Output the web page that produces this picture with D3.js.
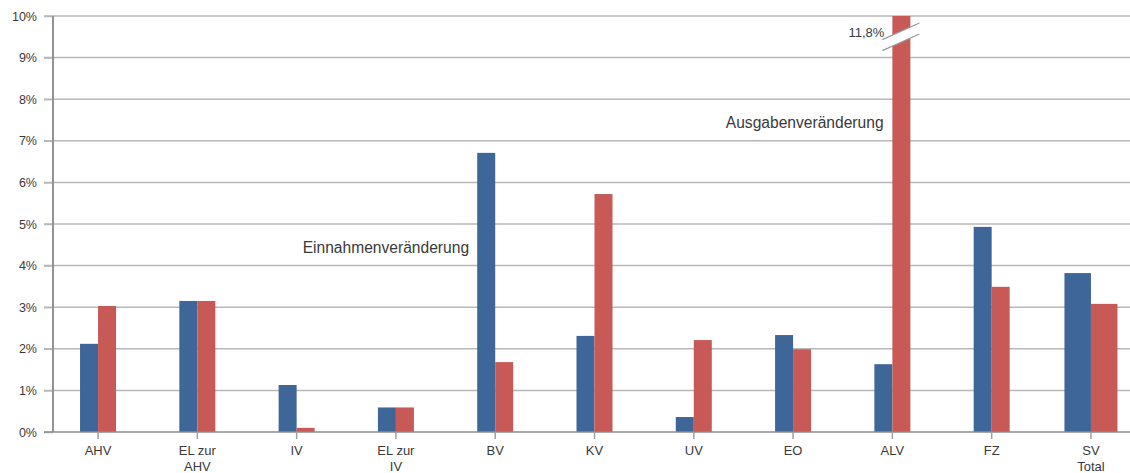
<!DOCTYPE html>
<html>
<head>
<meta charset="utf-8">
<script src="https://cdn.jsdelivr.net/npm/d3@7"></script>
<style>
  html, body { margin: 0; padding: 0; background: #fff; }
  svg text { font-family: "Liberation Sans", Arial, sans-serif; fill: #3a3a3a; }
</style>
</head>
<body>
<svg id="chart" width="1130" height="473"></svg>
<script>
const categories = ["AHV", "EL zur AHV", "IV", "EL zur IV", "BV", "KV", "UV", "EO", "ALV", "FZ", "SV Total"];
const tickLabels = [["AHV"], ["EL zur", "AHV"], ["IV"], ["EL zur", "IV"], ["BV"], ["KV"], ["UV"], ["EO"], ["ALV"], ["FZ"], ["SV", "Total"]];
const einnahmen = [2.12, 3.15, 1.13, 0.59, 6.71, 2.31, 0.36, 2.33, 1.63, 4.93, 3.82];
const ausgaben  = [3.03, 3.15, 0.10, 0.59, 1.68, 5.72, 2.21, 1.99, 11.8, 3.49, 3.08];
const yTicks = [0, 1, 2, 3, 4, 5, 6, 7, 8, 9, 10];
const yTickLabels = ["0%", "1%", "2%", "3%", "4%", "5%", "6%", "7%", "8%", "9%", "10%"];
const annotations = [
  { text: "Einnahmenveränderung", cat: "IV", value: 4.3, dx: 6 },
  { text: "Ausgabenveränderung", cat: "UV", value: 7.3, dx: 32 }
];

const svg = d3.select("#chart");
const axisX = 53, W = 1130;
const x = d3.scaleBand().domain(categories).range([48.4, 1140.6]).paddingInner(0).paddingOuter(0);
const y = d3.scaleLinear().domain([0, 10]).range([432, 16]);
const yMax = 10;
const blue = "#3f6698", red = "#c75a57";
const bw = c => c === "SV Total" ? 26.5 : 18;
const cx = c => x(c) + x.bandwidth() / 2;

// gridlines
svg.append("g").selectAll("line").data(yTicks.filter(t => t > 0)).join("line")
  .attr("x1", 44).attr("x2", W)
  .attr("y1", d => y(d)).attr("y2", d => y(d))
  .attr("stroke", "#b8b8b8").attr("stroke-width", 1.5);

// y axis
const yAxis = d3.axisLeft(y).tickValues(yTicks).tickFormat((d, i) => yTickLabels[i]).tickSize(9).tickPadding(7);
const gy = svg.append("g").attr("transform", `translate(${axisX},0)`).call(yAxis);
gy.select(".domain").attr("stroke", "#8c8c8c").attr("stroke-width", 1.5).attr("d", `M0,${y(10)}V${y(0)}`);
gy.selectAll(".tick line").attr("stroke", "#b8b8b8").attr("stroke-width", 1.5);
gy.selectAll(".tick text").style("font-size", "12.5px").style("font-family", "Liberation Sans, Arial, sans-serif").attr("fill", "#3a3a3a");

// bars
const gb = svg.append("g");
gb.selectAll("rect.e").data(categories).join("rect").attr("class", "e")
  .attr("x", (c) => cx(c) - bw(c)).attr("width", c => bw(c))
  .attr("y", (c, i) => y(Math.min(einnahmen[i], yMax)))
  .attr("height", (c, i) => y(0) - y(Math.min(einnahmen[i], yMax)))
  .attr("fill", blue);
gb.selectAll("rect.a").data(categories).join("rect").attr("class", "a")
  .attr("x", (c) => cx(c)).attr("width", c => bw(c))
  .attr("y", (c, i) => y(Math.min(ausgaben[i], yMax)))
  .attr("height", (c, i) => y(0) - y(Math.min(ausgaben[i], yMax)))
  .attr("fill", red);

// x axis baseline and ticks
svg.append("line").attr("x1", 44).attr("x2", W).attr("y1", y(0)).attr("y2", y(0))
  .attr("stroke", "#8c8c8c").attr("stroke-width", 1.5);
svg.append("line").attr("x1", axisX).attr("x2", axisX).attr("y1", y(10)).attr("y2", y(0))
  .attr("stroke", "#8c8c8c").attr("stroke-width", 1.5);
const gx = svg.append("g");
gx.selectAll("line").data(categories).join("line")
  .attr("x1", c => cx(c)).attr("x2", c => cx(c))
  .attr("y1", y(0)).attr("y2", y(0) + 7)
  .attr("stroke", "#a0a0a0").attr("stroke-width", 1.5);
gx.selectAll("text").data(categories).join("text")
  .attr("x", c => cx(c)).attr("y", y(0) + 23)
  .attr("text-anchor", "middle").style("font-size", "13px")
  .each(function (c, i) {
    const t = d3.select(this);
    tickLabels[i].forEach((ln, k) => {
      t.append("tspan").attr("x", cx(c)).attr("dy", k === 0 ? 0 : 16).text(ln);
    });
  });

// axis break for values above the y max
categories.forEach((c, i) => {
  if (ausgaben[i] > yMax) {
    const bx = cx(c), yb = y(9.5);
    const x0 = bx - 10, x1 = bx + 27;
    const slope = -0.45;
    const gap = 11;
    const gBreak = svg.append("g");
    gBreak.append("path")
      .attr("d", `M${x0},${yb + gap / 2}` +
        `L${x1},${yb + gap / 2 + slope * (x1 - x0)}` +
        `L${x1},${yb - gap / 2 + slope * (x1 - x0)}` +
        `L${x0},${yb - gap / 2}Z`)
      .attr("transform", `translate(0,${-slope * (x1 - x0) / 2})`)
      .attr("fill", "#fff");
    [yb + gap / 2, yb - gap / 2].forEach(y0 => {
      gBreak.append("line")
        .attr("x1", x0).attr("y1", y0 - slope * (x1 - x0) / 2)
        .attr("x2", x1).attr("y2", y0 + slope * (x1 - x0) / 2)
        .attr("stroke", "#999").attr("stroke-width", 1.2);
    });
    svg.append("text").attr("x", bx - 8).attr("y", yb)
      .attr("text-anchor", "end").style("font-size", "13px")
      .text(String(ausgaben[i]).replace(".", ",") + "%");
  }
});

// annotations
annotations.forEach(a => {
  svg.append("text").attr("x", cx(a.cat) + a.dx).attr("y", y(a.value))
    .style("font-size", "15.6px").text(a.text);
});
</script>
</body>
</html>
